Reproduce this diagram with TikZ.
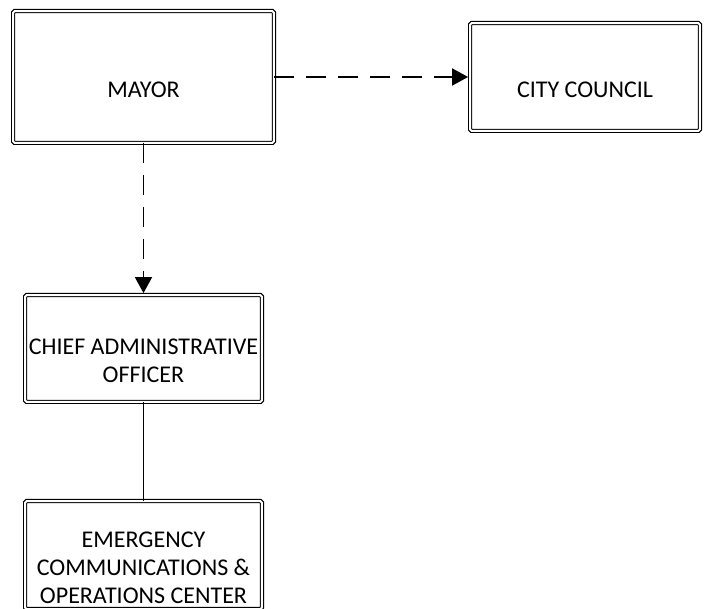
\documentclass[tikz,border=0pt]{standalone}
\usepackage{fontspec}
\setmainfont{Carlito}
\usetikzlibrary{arrows.meta,positioning}

\begin{document}
\begin{tikzpicture}[
  x=1pt, y=-1pt,
  unit/.style={draw, double, line width=1.1pt, double distance=2pt, rounded corners=1.5pt,
    outer sep=0pt, align=center, font=\fontsize{24}{28}\selectfont},
  oneline/.style={text height=41pt, text depth=0pt},
  twoline/.style={text height=69pt, text depth=0pt},
  threeline/.style={text height=97pt, text depth=0pt},
  arr/.style={-{Triangle[length=16pt,width=17pt]}, line width=1.8pt, dash pattern=on 20pt off 12pt, shorten >=2pt},
  link/.style={line width=1.3pt}
]
  \useasboundingbox (0,0) rectangle (705,609);
  \clip (0,0) rectangle (705,609);

  \node[unit, oneline, minimum width=260.8pt, minimum height=131.8pt] (mayor) at (143.5,77) {MAYOR};
  \node[unit, oneline, minimum width=229.8pt, minimum height=107.8pt, right=196.2pt of mayor] (council) {CITY COUNCIL};
  \node[unit, twoline, minimum width=236.8pt, minimum height=106.8pt, below=152.2pt of mayor] (cao) {CHIEF ADMINISTRATIVE\\OFFICER};
  \node[unit, threeline, minimum width=236.8pt, minimum height=108pt, below=99.2pt of cao] (ecoc) {EMERGENCY\\COMMUNICATIONS \&\\OPERATIONS CENTER};

  \draw[arr] (mayor) -- (council);
  \draw[arr] (mayor) -- (cao);
  \draw[link] (cao) -- (ecoc);
\end{tikzpicture}
\end{document}
